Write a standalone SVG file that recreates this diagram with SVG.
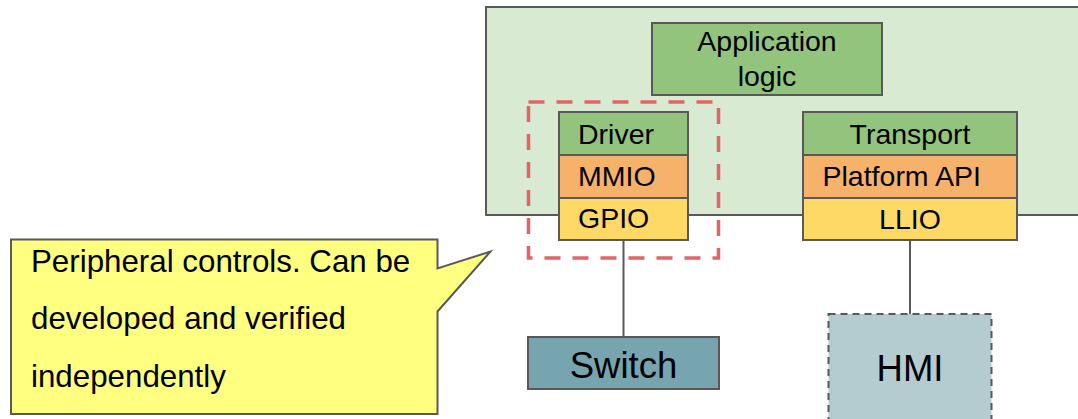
<svg xmlns="http://www.w3.org/2000/svg" width="1078" height="419" viewBox="0 0 1078 419">
  <style>
    .box { stroke: #595959; stroke-width: 2; }
    .lbl { font-family: "Liberation Sans", Arial, sans-serif; font-size: 28.5px; fill: #000; }
    .big { font-family: "Liberation Sans", Arial, sans-serif; font-size: 36.5px; fill: #000; }
    .note { font-family: "Liberation Sans", Arial, sans-serif; font-size: 31.3px; fill: #000; }
    .mid { text-anchor: middle; }
    .green { fill: #93c47d; }
    .orange { fill: #f6b26b; }
    .yellow { fill: #ffd966; }
    .wire { stroke: #595959; stroke-width: 2; fill: none; }
  </style>
  <rect width="1078" height="419" fill="#ffffff"/>

  <!-- host system area -->
  <g id="host">
    <rect class="box" x="486" y="7" width="620" height="208" fill="#d9ead3"/>
  </g>

  <g id="app-logic">
    <rect class="box green" x="652" y="23" width="230" height="72"/>
    <text class="lbl mid" x="767" y="51">Application</text>
    <text class="lbl mid" x="767" y="86">logic</text>
  </g>

  <!-- highlight around the peripheral stack -->
  <g id="peripheral-group">
    <rect x="528.5" y="102" width="190" height="156" fill="none" stroke="#e06666" stroke-width="3.5" stroke-dasharray="16 12"/>
  </g>

  <g id="driver-stack">
    <rect class="box green" x="559" y="112" width="129" height="43"/>
    <text class="lbl" x="578" y="143.5">Driver</text>
    <rect class="box orange" x="559" y="155" width="129" height="43"/>
    <text class="lbl" x="578" y="185.5">MMIO</text>
    <rect class="box yellow" x="559" y="198" width="129" height="42"/>
    <text class="lbl" x="578" y="228">GPIO</text>
  </g>

  <g id="transport-stack">
    <rect class="box green" x="803" y="112" width="214" height="43"/>
    <text class="lbl mid" x="910" y="144">Transport</text>
    <rect class="box orange" x="803" y="155" width="214" height="43"/>
    <text class="lbl" x="822.5" y="185.5">Platform API</text>
    <rect class="box yellow" x="803" y="198" width="214" height="42"/>
    <text class="lbl mid" x="910" y="228.5">LLIO</text>
  </g>

  <g id="connectors">
    <line class="wire" x1="623.5" y1="240" x2="623.5" y2="337"/>
    <line class="wire" x1="910" y1="240" x2="910" y2="314"/>
  </g>

  <g id="switch">
    <rect class="box" x="528" y="337" width="191" height="52" fill="#76a5af"/>
    <text class="big mid" x="623.5" y="377.5">Switch</text>
  </g>

  <g id="hmi">
    <rect x="828.5" y="314" width="163" height="120" fill="#b4cbd0" stroke="#595959" stroke-width="2" stroke-dasharray="7 5"/>
    <text class="big mid" x="910" y="381">HMI</text>
  </g>

  <!-- speech-bubble note -->
  <g id="note">
    <path d="M11 239.5 H437.5 V268.5 L490.5 251.5 L437.5 311.5 V414 H11 Z" fill="#ffff80" stroke="#595959" stroke-width="2" stroke-linejoin="miter"/>
    <text class="note" x="31" y="271.5">Peripheral controls. Can be</text>
    <text class="note" x="31" y="328.5">developed and verified</text>
    <text class="note" x="31" y="387">independently</text>
  </g>
</svg>
